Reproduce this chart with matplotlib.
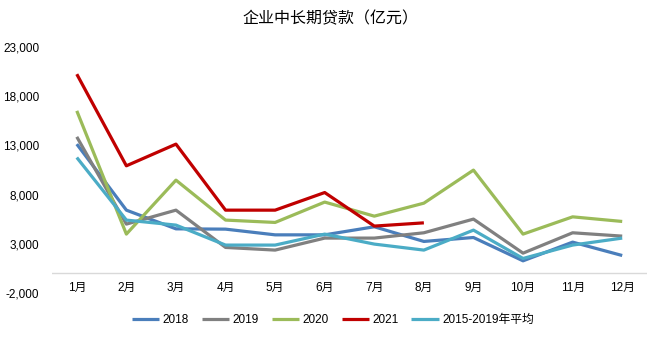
import matplotlib
matplotlib.use("Agg")
import matplotlib.pyplot as plt
from matplotlib.ticker import FuncFormatter

plt.rcParams['font.family'] = ['Liberation Sans', 'Noto Sans CJK SC', 'DejaVu Sans']

##### Data #####
months = ["1月", "2月", "3月", "4月", "5月", "6月", "7月", "8月", "9月", "10月", "11月", "12月"]
y2018 = [13130, 6420, 4520, 4490, 3910, 3910, 4730, 3240, 3640, 1270, 3170, 1810]
y2019 = [13870, 5000, 6420, 2630, 2360, 3580, 3580, 4120, 5510, 2050, 4120, 3780]
y2020 = [16510, 3985, 9470, 5410, 5170, 7240, 5810, 7130, 10490, 3985, 5740, 5270]
y2021 = [20240, 10925, 13130, 6420, 6420, 8210, 4800, 5130]
avg15_19 = [11770, 5410, 4900, 2870, 2870, 3985, 2970, 2360, 4390, 1510, 2870, 3580]

series = [
    ("2018", y2018, "#4a7ebb"),
    ("2019", y2019, "#808080"),
    ("2020", y2020, "#9bbb59"),
    ("2021", y2021, "#c00000"),
    ("2015-2019年平均", avg15_19, "#4bacc6"),
]

fig = plt.figure(figsize=(6.61, 3.39), dpi=100)
ax = fig.add_axes([52 / 661, 1 - 293 / 339, (647 - 52) / 661, (293 - 47) / 339])

for name, vals, col in series:
    ax.plot(range(len(vals)), vals, color=col, lw=2.3, label=name, solid_capstyle='butt')

ax.set_xlim(-0.5, 11.5)
ax.set_ylim(-2000, 23000)
ax.set_yticks(range(-2000, 23001, 5000))
ax.yaxis.set_major_formatter(FuncFormatter(lambda v, p: f"{int(v):,}"))
ax.set_xticks(range(12))
ax.set_xticklabels(months)
ax.axhline(0, color="#d9d9d9", lw=1, zorder=0)
for s in ax.spines.values():
    s.set_visible(False)
ax.tick_params(axis='both', length=0, labelsize=8.5, colors='black')
ax.tick_params(axis='x', pad=-8)
ax.tick_params(axis='y', pad=9)

fig.text(0.5, 1 - 18 / 339, "企业中长期贷款（亿元）", ha='center', va='center', fontsize=11.5)

ax.legend(loc='center', bbox_to_anchor=(0.472, (293 - 320) / (293 - 47)), ncol=5, frameon=False,
          fontsize=8.5, handlelength=2.3, columnspacing=1.1, handletextpad=0.3)

fig.savefig("out.png", dpi=100, facecolor='white')
